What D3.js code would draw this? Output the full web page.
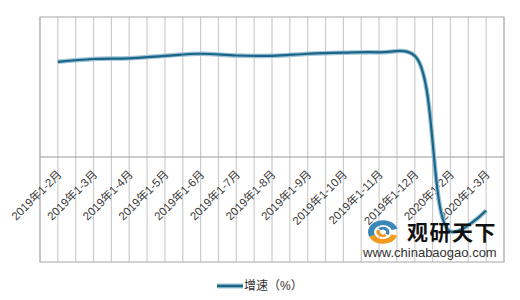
<!DOCTYPE html>
<html><head><meta charset="utf-8">
<script src="https://cdn.jsdelivr.net/npm/d3@7"></script>
<style>
html,body{margin:0;padding:0;background:#fff;}
svg{display:block;font-family:"Liberation Sans","Noto Sans CJK SC",sans-serif;}
</style></head>
<body>
<svg id="chart" width="520" height="300"></svg>
<script>
const categories = ["2019年1-2月","2019年1-3月","2019年1-4月","2019年1-5月","2019年1-6月","2019年1-7月","2019年1-8月","2019年1-9月","2019年1-10月","2019年1-11月","2019年1-12月","2020年1-2月","2020年1-3月"];
const growth = [27.2, 28.0, 28.2, 28.9, 29.5, 29.0, 28.9, 29.5, 29.8, 29.9, 28.9, -21.3, -15.3];
const seriesName = "增速（%）";
const yDomain = [-30, 40];

const svg = d3.select("#chart");
const m = {left: 40, right: 16, top: 17, bottom: 38};
const W = 520, H = 300;
const plotB = 262;

const x = d3.scaleBand().domain(categories).range([m.left, W - m.right]).padding(0);
const y = d3.scaleLinear().domain(yDomain).range([plotB, m.top]);
const cx = c => x(c) + x.bandwidth() / 2;

// vertical gridlines at band edges and centers
const gridXs = [];
categories.forEach(c => { gridXs.push(x(c)); gridXs.push(cx(c)); });
gridXs.push(x(categories[categories.length - 1]) + x.bandwidth());

svg.append("g").selectAll("line").data(gridXs).join("line")
  .attr("x1", d => d).attr("x2", d => d)
  .attr("y1", m.top).attr("y2", plotB)
  .attr("stroke", "#cccccc").attr("stroke-width", 1.2);

// plot border
svg.append("rect").attr("x", m.left).attr("y", m.top)
  .attr("width", W - m.right - m.left).attr("height", plotB - m.top)
  .attr("fill", "none").attr("stroke", "#b4b4b4").attr("stroke-width", 1.2);

// zero line
svg.append("line").attr("x1", m.left).attr("x2", W - m.right)
  .attr("y1", y(0)).attr("y2", y(0)).attr("stroke", "#9a9a9a").attr("stroke-width", 1.2);

// x labels
svg.append("g").selectAll("text").data(categories).join("text")
  .attr("transform", c => `translate(${cx(c) + 4.5},${y(0) + 18}) rotate(-45)`)
  .attr("text-anchor", "end")
  .attr("font-size", 11.5).attr("fill", "#3a3a3a")
  .text(c => c);

// line
const line = d3.line().x((d, i) => cx(categories[i])).y(d => y(d)).curve(d3.curveCatmullRom.alpha(0.5));
svg.append("path").datum(growth).attr("d", line)
  .attr("fill", "none").attr("stroke", "#9cc2d4").attr("stroke-width", 4.5).attr("stroke-linejoin", "round");
svg.append("path").datum(growth).attr("d", line)
  .attr("fill", "none").attr("stroke", "#1a6689").attr("stroke-width", 2.2).attr("stroke-linejoin", "round");

// watermark
const wm = svg.append("g");
const arc = d3.arc();
const lc = "translate(383,232) scale(1,0.78)";
wm.append("path").attr("transform", lc)
  .attr("d", arc({innerRadius: 9, outerRadius: 15, startAngle: -2.0, endAngle: 1.3}))
  .attr("fill", "#3a87b8");
wm.append("path").attr("transform", lc)
  .attr("d", arc({innerRadius: 9, outerRadius: 15, startAngle: 1.9, endAngle: 4.3}))
  .attr("fill", "#f39a1e");
wm.append("path").attr("transform", lc)
  .attr("d", arc({innerRadius: 3, outerRadius: 6.5, startAngle: -0.8, endAngle: 2.2}))
  .attr("fill", "#3a87b8");
wm.append("path").attr("transform", lc)
  .attr("d", arc({innerRadius: 3, outerRadius: 6.5, startAngle: 2.5, endAngle: 5.2}))
  .attr("fill", "#f39a1e");
wm.append("text").attr("x", 407).attr("y", 240).attr("font-size", 21).attr("font-weight", "bold")
  .attr("font-family", "'Noto Sans CJK SC',sans-serif").attr("fill", "#111").attr("letter-spacing", 1.5).text("观研天下");
wm.append("text").attr("x", 363).attr("y", 257).attr("font-size", 13).attr("fill", "#333")
  .attr("font-family", "'Liberation Sans',sans-serif").text("www.chinabaogao.com");

// legend
const lg = svg.append("g");
lg.append("line").attr("x1", 217).attr("x2", 243).attr("y1", 286).attr("y2", 286)
  .attr("stroke", "#9cc2d4").attr("stroke-width", 5);
lg.append("line").attr("x1", 217).attr("x2", 243).attr("y1", 286).attr("y2", 286)
  .attr("stroke", "#1a6689").attr("stroke-width", 2.5);
lg.append("text").attr("x", 244).attr("y", 286).attr("dy", "0.35em")
  .attr("font-size", 12).attr("fill", "#333").text(seriesName);
</script>
</body></html>
